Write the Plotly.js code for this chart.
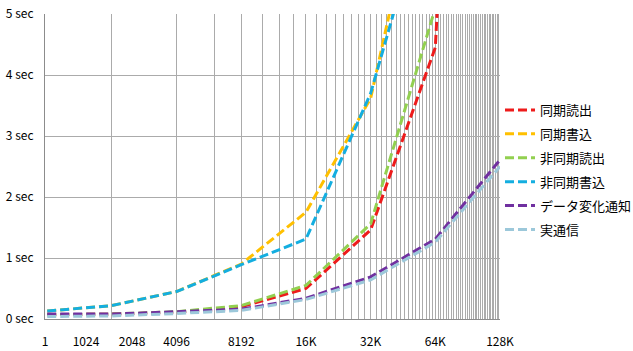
<!DOCTYPE html>
<html>
<head>
<meta charset="utf-8">
<script src="https://cdn.plot.ly/plotly-3.0.1.min.js"></script>
<style>html,body{margin:0;padding:0;background:#fff;}#chart{width:633px;height:351px;}</style>
</head>
<body>
<div id="chart"></div>
<script>
// Data (x = message size, y = seconds)
var sizes = [1024, 2048, 4096, 8192, 16384, 32768, 65536, 131072];
var syncRead      = [0.07, 0.08, 0.11, 0.20, 0.50, 1.46, 4.45, 25];
var syncWrite     = [0.13, 0.22, 0.45, 0.90, 1.75, 3.62, 8.4, 17];
var asyncRead     = [0.07, 0.08, 0.12, 0.22, 0.55, 1.56, 5.1, 20];
var asyncWrite    = [0.13, 0.22, 0.45, 0.89, 1.31, 3.70, 7.4, 15];
var dataChange    = [0.08, 0.08, 0.12, 0.16, 0.34, 0.69, 1.31, 2.61];
var realComm      = [0.04, 0.05, 0.09, 0.14, 0.32, 0.64, 1.26, 2.50];

var seriesNames = ['同期読出', '同期書込', '非同期読出', '非同期書込', 'データ変化通知', '実通信'];
var seriesData = [syncRead, syncWrite, asyncRead, asyncWrite, dataChange, realComm];
var seriesColors = ['#EE1B1B', '#FFC000', '#92D050', '#14AEE0', '#7030A0', '#9CC8DA'];

// Tick labels as drawn under the axis
var xTickLabels = ['1', '1024', '2048', '4096', '8192', '16K', '32K', '64K', '128K'];
var xTickAt     = [1001, 1551, 2541, 4096, 8192, 16384, 32768, 65536, 131072];

// vertical gridlines every 2048
var gridVals = [];
for (var k = 2048; k <= 131072; k += 2048) gridVals.push(k);

var FONT = '"Noto Sans CJK JP", "Noto Sans", sans-serif';

var traces = seriesNames.map(function (n, i) {
  return {
    type: 'scatter', mode: 'lines', name: n,
    x: sizes, y: seriesData[i],
    legendgroup: 'g' + i,
    line: {color: seriesColors[i], width: 3, dash: '9px,4px'},
    hoverinfo: 'skip'
  };
});

var layout = {
  width: 633, height: 351,
  margin: {l: 45, r: 133, t: 14, b: 32, pad: 0},
  paper_bgcolor: '#ffffff', plot_bgcolor: '#ffffff',
  font: {family: FONT, size: 12, color: '#000000'},
  showlegend: true,
  legend: {
    xref: 'container', yref: 'container',
    x: 500 / 633, xanchor: 'left', y: 1 - 95 / 351, yanchor: 'top',
    font: {family: FONT, size: 13, color: '#000000'},
    tracegroupgap: 4, traceorder: 'grouped',
    bgcolor: 'rgba(0,0,0,0)', borderwidth: 0
  },
  xaxis: {
    type: 'log',
    range: [Math.log10(1000), Math.log10(131072)],
    tickmode: 'array', tickvals: xTickAt, ticktext: xTickLabels,
    showgrid: false, zeroline: false,
    showline: true, linecolor: '#8C8C8C', linewidth: 1,
    ticks: 'outside', ticklen: 12, tickcolor: 'rgba(0,0,0,0)',
    tickfont: {family: FONT, size: 12, color: '#000'},
    minor: {tickmode: 'array', tickvals: gridVals, showgrid: true, gridcolor: '#ABABAB', gridwidth: 1, ticks: ''},
    fixedrange: true
  },
  yaxis: {
    range: [0, 5], tickmode: 'linear', tick0: 0, dtick: 1,
    ticksuffix: ' sec',
    showgrid: true, gridcolor: '#ABABAB', gridwidth: 1,
    zeroline: false,
    showline: true, linecolor: '#8C8C8C', linewidth: 1,
    ticks: 'outside', ticklen: 8, tickcolor: 'rgba(0,0,0,0)',
    tickfont: {family: FONT, size: 12, color: '#000'},
    fixedrange: true
  }
};

Plotly.newPlot('chart', traces, layout, {displayModeBar: false, staticPlot: true});
</script>
</body>
</html>
